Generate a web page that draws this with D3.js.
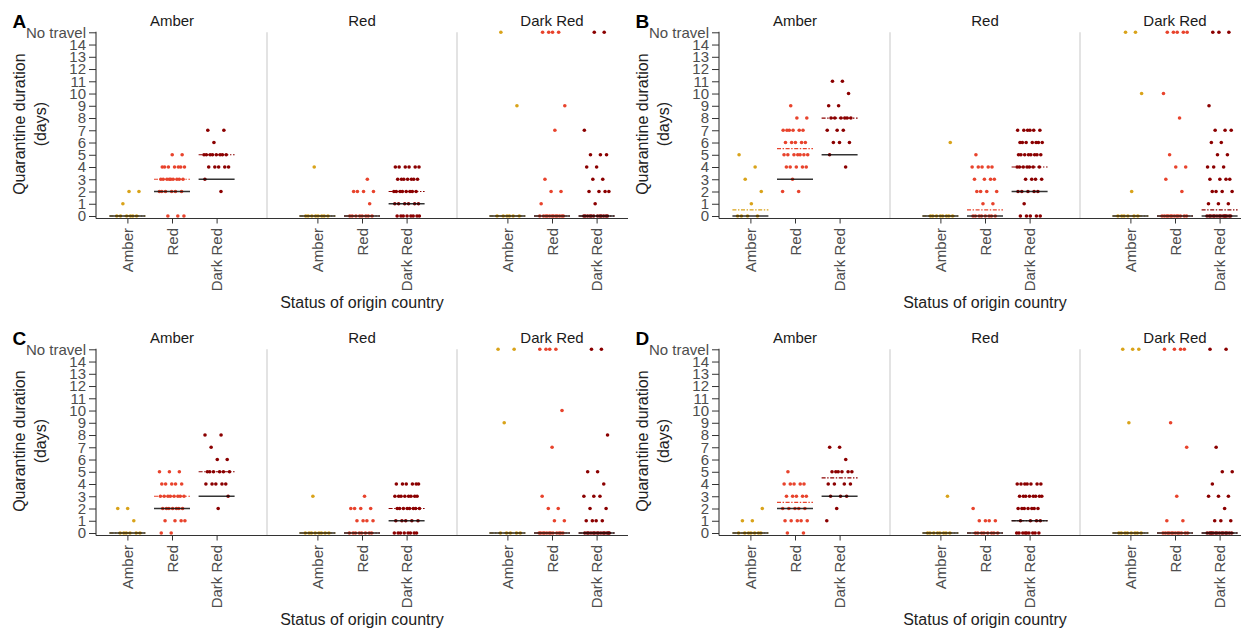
<!DOCTYPE html>
<html><head><meta charset="utf-8">
<script src="https://cdn.jsdelivr.net/npm/d3@7"></script>
<style>body{margin:0;background:#fff}</style>
</head><body>
<svg id="chart" width="1241" height="630"></svg>
<script>
// ---------- data ----------
const origins = ["Amber", "Red", "Dark Red"];          // x categories (status of origin country)
const facets = ["Amber", "Red", "Dark Red"];           // facet titles
const yTickLabels = ["0","1","2","3","4","5","6","7","8","9","10","11","12","13","14","No travel"];
const panelLetters = ["A", "B", "C", "D"];

// responses as [value, count]; per facet -> per origin (Amber, Red, Dark Red); 15 = No travel
const panelA = [
  [ [[0,6],[1,1],[2,2]],
    [[5,2],[4,7],[3,9],[2,6],[0,3]],
    [[7,2],[6,1],[5,8],[4,5],[3,1],[2,1]] ],
  [ [[0,8],[4,1]],
    [[3,1],[2,4],[1,1],[0,8]],
    [[4,6],[3,7],[2,8],[1,6],[0,8]] ],
  [ [[15,1],[9,1],[0,6]],
    [[15,4],[9,1],[7,1],[3,1],[2,2],[1,1],[0,12]],
    [[15,2],[7,1],[5,3],[4,2],[3,2],[2,4],[1,1],[0,12]] ]
];
const panelB = [
  [ [[5,1],[4,1],[3,1],[2,1],[1,1],[0,4]],
    [[9,1],[8,2],[7,6],[6,5],[5,7],[4,5],[3,1],[2,2]],
    [[11,2],[10,1],[9,2],[8,6],[7,3],[6,3],[5,1],[4,1]] ],
  [ [[6,1],[0,8]],
    [[5,1],[4,5],[3,4],[2,4],[1,2],[0,8]],
    [[7,6],[6,7],[5,8],[4,7],[3,4],[2,5],[1,1],[0,5]] ],
  [ [[15,2],[10,1],[2,1],[0,6]],
    [[15,5],[10,1],[8,1],[5,1],[4,2],[3,1],[2,1],[0,12]],
    [[15,3],[9,1],[7,3],[6,2],[5,2],[4,3],[3,4],[2,4],[1,3],[0,14]] ]
];
const panelC = [
  [ [[2,2],[1,1],[0,6]],
    [[5,3],[4,5],[3,8],[2,7],[1,4],[0,2]],
    [[8,2],[7,1],[6,2],[5,6],[4,5],[3,1],[2,1]] ],
  [ [[3,1],[0,8]],
    [[3,1],[2,4],[1,4],[0,8]],
    [[4,6],[3,8],[2,8],[1,5],[0,8]] ],
  [ [[15,2],[9,1],[0,5]],
    [[15,4],[10,1],[7,1],[3,1],[2,2],[1,2],[0,12]],
    [[15,2],[8,1],[5,2],[4,1],[3,3],[2,2],[1,4],[0,14]] ]
];
const panelD = [
  [ [[2,1],[1,2],[0,7]],
    [[5,1],[4,5],[3,5],[2,5],[1,5],[0,2]],
    [[7,2],[6,1],[5,6],[4,4],[3,3],[2,1],[1,1]] ],
  [ [[3,1],[0,8]],
    [[2,1],[1,4],[0,8]],
    [[4,7],[3,8],[2,7],[1,4],[0,9]] ],
  [ [[15,3],[9,1],[0,8]],
    [[15,4],[9,1],[7,1],[3,1],[1,2],[0,12]],
    [[15,2],[7,1],[5,2],[4,1],[3,3],[2,1],[1,3],[0,14]] ]
];

// black solid reference lines, per facet -> per origin
const solidA = [[0,2,3],[0,0,1],[0,0,0]];
const solidB = [[0,3,5],[0,0,2],[0,0,0]];
const solidC = [[0,2,3],[0,0,1],[0,0,0]];
const solidD = [[0,2,3],[0,0,1],[0,0,0]];
// coloured dashed lines, per facet -> per origin
const dashedA = [[0,3,5],[0,0,2],[0,0,0]];
const dashedB = [[0.5,5.5,8],[0,0.5,4],[0,0,0.5]];
const dashedC = [[0,3,5],[0,0,2],[0,0,0]];
const dashedD = [[0,2.5,4.5],[0,0,1],[0,0,0]];

const panels = [
  {letter: panelLetters[0], data: panelA, solid: solidA, dashed: dashedA},
  {letter: panelLetters[1], data: panelB, solid: solidB, dashed: dashedB},
  {letter: panelLetters[2], data: panelC, solid: solidC, dashed: dashedC},
  {letter: panelLetters[3], data: panelD, solid: solidD, dashed: dashedD}
];

// ---------- layout / style ----------
const colors = {"Amber": "#D9A31A", "Red": "#E8432C", "Dark Red": "#8B0000"};
const offsets = [[0,0],[623,0],[0,317],[623,317]];
const FONT = "'Liberation Sans', Arial, Helvetica, sans-serif";
const jitterHalf = 13, lineHalf = 18, dotR = 1.8;
const axisY = 218.5;

const svg = d3.select("#chart").style("font-family", FONT);
svg.append("rect").attr("width", 1241).attr("height", 630).attr("fill", "#fff");

function jitter(i, gi) {
  const u = ((i + 1) * 0.6180339887 + gi * 0.2718) % 1;
  return (u * 2 - 1) * jitterHalf;
}

panels.forEach((p, pi) => {
  const [ox, oy] = offsets[pi];
  const g = svg.append("g").attr("transform", `translate(${ox},${oy})`);

  const y = d3.scaleLinear().domain([0, 15]).range([216, 32.3]);
  const fx = d3.scaleBand().domain(facets).range([77, 647]);
  const bw = fx.bandwidth();
  const inner = d3.scalePoint().domain(origins).range([bw / 2 - 44.6, bw / 2 + 44.6]);
  const xStart = fx.range()[0] + 19, xEnd = fx.range()[1] - 19;

  // facet separators
  facets.slice(1).forEach(f => {
    g.append("line").attr("x1", fx(f)).attr("x2", fx(f))
      .attr("y1", y(15)).attr("y2", axisY)
      .attr("stroke", "#d4d4d4").attr("stroke-width", 1.3);
  });

  // facet titles
  facets.forEach(f => {
    g.append("text").attr("x", fx(f) + bw / 2).attr("y", 26)
      .attr("text-anchor", "middle").attr("font-size", 15).attr("fill", "#1a1a1a").text(f);
  });

  // dots
  facets.forEach((f, fi) => {
    origins.forEach((o, oi) => {
      const pts = [];
      p.data[fi][oi].forEach(([v, n]) => { for (let k = 0; k < n; k++) pts.push(v); });
      const gi = pi * 9 + fi * 3 + oi;
      g.append("g").selectAll("circle").data(pts).join("circle")
        .attr("cx", (d, i) => fx(f) + inner(o) + jitter(i, gi))
        .attr("cy", d => y(d))
        .attr("r", dotR)
        .attr("fill", colors[o]);
    });
  });

  // dashed then solid lines
  facets.forEach((f, fi) => {
    origins.forEach((o, oi) => {
      const cx = fx(f) + inner(o);
      const dv = p.dashed[fi][oi];
      g.append("line").attr("x1", cx - lineHalf).attr("x2", cx + lineHalf)
        .attr("y1", y(dv)).attr("y2", y(dv))
        .attr("stroke", colors[o]).attr("stroke-width", 1.2)
        .attr("stroke-dasharray", "4,1.6,1.4,1.6");
      const sv = p.solid[fi][oi];
      g.append("line").attr("x1", cx - lineHalf).attr("x2", cx + lineHalf)
        .attr("y1", y(sv)).attr("y2", y(sv))
        .attr("stroke", "#111").attr("stroke-opacity", 0.85).attr("stroke-width", 1.3);
    });
  });

  // y axis
  const ya = g.append("g").attr("transform", `translate(${xStart},0)`)
    .call(d3.axisLeft(y).tickValues(d3.range(0, 16)).tickFormat(i => yTickLabels[i])
      .tickSize(7).tickPadding(3));
  ya.select(".domain").remove();
  ya.selectAll(".tick line").attr("stroke", "#333");
  ya.selectAll(".tick text").attr("font-size", 15).attr("fill", "#4d4d4d").attr("font-family", FONT);
  g.append("line").attr("x1", xStart).attr("x2", xStart).attr("y1", y(15) - 0.5).attr("y2", axisY)
    .attr("stroke", "#333").attr("stroke-width", 1.1);

  // x axis
  g.append("line").attr("x1", xStart).attr("x2", xEnd).attr("y1", axisY).attr("y2", axisY)
    .attr("stroke", "#333").attr("stroke-width", 1.1);
  facets.forEach(f => {
    const xa = g.append("g").attr("transform", `translate(${fx(f)},${axisY})`)
      .call(d3.axisBottom(inner).tickSize(5).tickPadding(4));
    xa.select(".domain").remove();
    xa.selectAll(".tick line").attr("stroke", "#333");
    xa.selectAll(".tick text")
      .attr("transform", "rotate(-90)")
      .attr("x", -9.5).attr("y", 0).attr("dy", "0.35em")
      .attr("text-anchor", "end")
      .attr("font-size", 15).attr("fill", "#4d4d4d").attr("font-family", FONT);
  });

  // axis titles
  g.append("text").attr("x", fx("Red") + bw / 2).attr("y", 307.5)
    .attr("text-anchor", "middle").attr("font-size", 16).attr("fill", "#222")
    .text("Status of origin country");
  const yt = g.append("text")
    .attr("transform", `translate(25,${(y(0) + y(15)) / 2}) rotate(-90)`)
    .attr("text-anchor", "middle").attr("font-size", 16).attr("fill", "#222");
  yt.append("tspan").attr("x", 0).attr("dy", 0).text("Quarantine duration");
  yt.append("tspan").attr("x", 0).attr("dy", 21).text("(days)");

  // panel letter
  g.append("text").attr("x", 12.5).attr("y", 28).attr("font-size", 19)
    .attr("font-weight", "bold").attr("fill", "#000").text(p.letter);
});
</script>
</body></html>
